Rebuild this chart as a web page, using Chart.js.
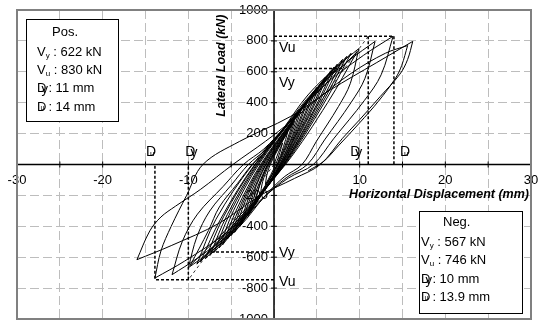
<!DOCTYPE html>
<html>
<head>
<meta charset="utf-8">
<script src="https://cdn.jsdelivr.net/npm/chart.js@4.4.1/dist/chart.umd.min.js"></script>
<style>
  html, body { margin: 0; padding: 0; background: #fff; }
  #wrap { width: 546px; height: 320px; }
</style>
</head>
<body>
<div id="wrap"><canvas id="chart" width="546" height="320"></canvas></div>
<script>
// Tick labels
const xTicks = [-30, -20, -10, 10, 20, 30];
const yTicks = [-1000, -800, -600, -400, -200, 200, 400, 600, 800, 1000];

// Key values (Pos. / Neg.)
const posVy = 622, posVu = 830, posDy = 11, posDu = 14;
const negVy = -567, negVu = -746, negDy = -10, negDu = -13.9;

// Hysteresis cycles, [displacement mm, load kN]
const cycle01 = [[0,0],[0.5,76],[1.0,140],[0.68,77],[0.2,0],[-0.37,-65],[-1.0,-130]];
const cycle02 = [[-1.0,-130],[-0.85,-72],[-0.44,0],[0.53,105],[1.6,210],[1.11,116],[0.36,0],[-0.57,-100],[-1.6,-200]];
const cycle03 = [[-1.6,-200],[-1.32,-110],[-0.56,0],[0.76,135],[2.2,270],[1.47,149],[0.4,0],[-0.84,-125],[-2.2,-250]];
const cycle04 = [[-2.2,-250],[-1.67,-135],[-0.67,0],[0.8,140],[2.4,280],[1.62,154],[0.45,0],[-0.85,-122],[-2.3,-245]];
const cycle05 = [[-2.3,-245],[-1.68,-135],[-0.73,0],[1.05,175],[3.0,350],[2.01,193],[0.55,0],[-1.14,-165],[-3.0,-330]];
const cycle06 = [[-3.0,-330],[-2.17,-184],[-0.76,0],[1.13,178],[3.2,355],[2.19,195],[0.68,0],[-1.13,-168],[-3.1,-335]];
const cycle07 = [[-3.1,-335],[-2.38,-184],[-0.92,0],[1.34,205],[3.8,410],[2.53,225],[0.68,0],[-1.45,-192],[-3.8,-385]];
const cycle08 = [[-3.8,-385],[-2.72,-212],[-0.98,0],[1.4,210],[4.0,420],[2.71,231],[0.78,0],[-1.5,-200],[-4.0,-400]];
const cycle09 = [[-4.0,-400],[-2.98,-220],[-1.11,0],[1.62,235],[4.6,470],[3.06,258],[0.81,0],[-1.78,-220],[-4.6,-440]];
const cycle10 = [[-4.6,-440],[-3.38,-242],[-1.25,0],[1.75,250],[5.0,500],[3.31,275],[0.83,0],[-1.95,-230],[-5.0,-460]];
const cycle11 = [[-5.0,-460],[-3.65,-253],[-1.34,0],[1.89,260],[5.4,520],[3.57,286],[0.9,0],[-2.11,-240],[-5.4,-480]];
const cycle12 = [[-5.4,-480],[-3.92,-264],[-1.45,0],[2.12,282],[6.0,565],[3.94,311],[0.95,0],[-2.37,-260],[-6.0,-520]];
const cycle13 = [[-6.0,-520],[-4.32,-286],[-1.56,0],[2.21,290],[6.3,580],[4.14,319],[1.0,0],[-2.54,-270],[-6.4,-540]];
const cycle14 = [[-6.4,-540],[-4.71,-297],[-1.79,0],[2.43,315],[7.0,630],[4.59,346],[1.09,0],[-2.77,-285],[-7.0,-570]];
const cycle15 = [[-7.0,-570],[-5.12,-313],[-1.93,0],[2.55,325],[7.4,650],[4.84,358],[1.11,0],[-3.0,-295],[-7.5,-590]];
const cycle16 = [[-7.5,-590],[-5.45,-324],[-2.04,0],[2.78,340],[8.0,680],[5.2,374],[1.16,0],[-3.22,-305],[-8.0,-610]];
const cycle17 = [[-8.0,-610],[-5.86,-335],[-2.18,0],[2.95,350],[8.5,700],[5.5,385],[1.18,0],[-3.5,-315],[-8.6,-630]];
const cycle18 = [[-8.6,-630],[-6.17,-347],[-2.25,0],[3.16,360],[9.0,720],[5.83,396],[1.27,0],[-3.64,-322],[-9.0,-645]];
const cycle19 = [[-9.0,-645],[-6.78,-355],[-2.5,0],[3.36,365],[9.7,730],[6.28,402],[1.34,0],[-3.99,-328],[-9.8,-655]];
const cycle20 = [[-9.8,-655],[-7.65,-427],[-6.38,-275],[-4.25,-122],[-2.55,0],[-0.85,90],[0.99,225],[3.96,450],[7.43,638],[9.9,750],[8.91,525],[7.52,375],[4.95,150],[3.27,0],[1.19,-80],[-1,-200],[-4,-401],[-7.5,-568],[-10,-668]];
const cycle21 = [[-10,-668],[-9,-468],[-7.5,-301],[-5,-134],[-3,0],[-1,96],[1.18,239],[4.72,478],[8.85,677],[11.8,797],[10.62,558],[8.97,399],[5.9,159],[3.89,0],[1.42,-86],[-1.19,-214],[-4.76,-428],[-8.93,-606],[-11.9,-713]];
const cycle22 = [[-11.9,-713],[-10.71,-499],[-8.93,-321],[-5.95,-143],[-3.57,0],[-1.19,100],[1.39,249],[5.56,498],[10.43,706],[13.9,830],[12.51,581],[10.56,415],[6.95,166],[4.59,0],[1.67,-88],[-1.39,-221],[-5.56,-441],[-10.43,-625],[-13.9,-735]];
const cycle23 = [[-13.9,-735],[-13.2,-560],[-12,-400],[-10.2,-200],[-8.3,0],[-4,150],[1.9,310],[6.5,480],[12,660],[16.2,797],[15.6,680],[14.7,585],[12.4,440],[10,290],[8,170],[5.4,0],[2.4,-90],[-1.6,-200],[-6.4,-380],[-12,-525],[-16,-616]];
const cycle24 = [[-16,-616],[-14.5,-430],[-13.2,-340],[-11.5,-270],[-8.6,-162],[-4.8,0],[-1,150],[2,280],[5,420],[9,590],[13,720],[15.6,770],[14.9,640],[14.2,560],[12.2,410],[10,270],[7.5,120],[5.8,20],[4,-40]];

const cycles = [cycle01, cycle02, cycle03, cycle04, cycle05, cycle06, cycle07, cycle08,
                cycle09, cycle10, cycle11, cycle12, cycle13, cycle14, cycle15, cycle16,
                cycle17, cycle18, cycle19, cycle20, cycle21, cycle22, cycle23, cycle24];

const FONT = '"Liberation Sans", Arial, sans-serif';

// split each cycle at its positive peak so the tips stay sharp
function branches(pts) {
    let iMax = 0;
    pts.forEach((p, i) => { if (p[1] > pts[iMax][1]) iMax = i; });
    const toXY = arr => arr.map(p => ({ x: p[0], y: p[1] }));
    return [toXY(pts.slice(0, iMax + 1)), toXY(pts.slice(iMax))];
}

const loopSets = [];
cycles.forEach(c => {
    branches(c).forEach(b => {
        loopSets.push({ data: b, borderColor: '#000', borderWidth: 1, pointRadius: 0, showLine: true, tension: 0.35 });
    });
});

const thick = { borderColor: '#000', borderWidth: 1.5, borderDash: [3, 2], pointRadius: 0, showLine: true, tension: 0 };
const thin = { borderColor: '#000', borderWidth: 0.8, borderDash: [3, 3], pointRadius: 0, showLine: true, tension: 0 };

const refSets = [
    { ...thick, data: [{x: 0, y: posVu}, {x: posDu, y: posVu}, {x: posDu, y: 0}] },
    { ...thick, data: [{x: 0, y: posVy}, {x: posDy * posVy / posVu, y: posVy}] },
    { ...thick, data: [{x: posDy, y: posVu}, {x: posDy, y: 0}] },
    { ...thin, data: [{x: 0, y: 0}, {x: posDy, y: posVu}] },
    { ...thick, data: [{x: 0, y: negVu}, {x: negDu, y: negVu}, {x: negDu, y: 0}] },
    { ...thick, data: [{x: 0, y: negVy}, {x: negDy * negVy / negVu, y: negVy}] },
    { ...thick, data: [{x: negDy, y: negVu}, {x: negDy, y: 0}] },
    { ...thin, data: [{x: 0, y: 0}, {x: negDy, y: negVu}] }
];

function vText(ctx, x, y, sub, rest) {
    ctx.font = `13px ${FONT}`;
    ctx.fillText('V', x, y);
    const w = ctx.measureText('V').width;
    ctx.font = `8px ${FONT}`;
    ctx.fillText(sub, x + w, y + 4);
    const sw = ctx.measureText(sub).width;
    ctx.font = `13px ${FONT}`;
    ctx.fillText(rest, x + w + sw, y);
}

function dText(ctx, x, y, sub, rest, size) {
    ctx.font = `${size}px ${FONT}`;
    ctx.fillText('D', x, y);
    const w = ctx.measureText('D').width;
    if (sub === 'y') {
        ctx.fillText('y', x + w - 5, y + 1);
    } else {
        ctx.font = `${Math.round(size * 0.55)}px ${FONT}`;
        ctx.fillText(sub, x + w - 6, y + 1);
    }
    ctx.font = `${size}px ${FONT}`;
    if (rest) ctx.fillText(rest, x + w + 2, y);
}

const overlay = {
    id: 'overlay',
    // axes, ticks and tick labels sit under the loops
    beforeDatasetsDraw(chart) {
        const { ctx, chartArea: a, scales: { x, y } } = chart;
        const x0 = x.getPixelForValue(0), y0 = y.getPixelForValue(0);
        ctx.save();
        ctx.strokeStyle = '#000';
        ctx.lineWidth = 1.5;
        ctx.beginPath();
        ctx.moveTo(a.left, y0); ctx.lineTo(a.right, y0);
        ctx.moveTo(x0, a.top); ctx.lineTo(x0, a.bottom);
        ctx.stroke();

        ctx.lineWidth = 1;
        ctx.beginPath();
        x.ticks.forEach(t => { const p = x.getPixelForValue(t.value); ctx.moveTo(p, y0 - 3); ctx.lineTo(p, y0 + 3); });
        y.ticks.forEach(t => { const p = y.getPixelForValue(t.value); ctx.moveTo(x0 - 3, p); ctx.lineTo(x0 + 3, p); });
        ctx.stroke();

        ctx.font = `13px ${FONT}`;
        ctx.textBaseline = 'middle';
        ctx.textAlign = 'right';
        yTicks.forEach(v => {
            const p = y.getPixelForValue(v), s = String(v);
            const w = ctx.measureText(s).width;
            ctx.fillStyle = '#fff';
            ctx.fillRect(x0 - 7 - w, p - 6, w + 2, 12);
            ctx.fillStyle = '#000';
            ctx.fillText(s, x0 - 6, p);
        });
        ctx.textAlign = 'center';
        xTicks.forEach(v => ctx.fillText(String(v), x.getPixelForValue(v), y0 + 16));
        ctx.restore();
    },
    afterDraw(chart) {
        const { ctx, chartArea: a, scales: { x, y } } = chart;
        const x0 = x.getPixelForValue(0), y0 = y.getPixelForValue(0);
        ctx.save();
        ctx.textBaseline = 'middle';

        // frame
        ctx.strokeStyle = '#808080';
        ctx.lineWidth = 2;
        ctx.strokeRect(a.left, a.top, a.right - a.left, a.bottom - a.top);

        // axis titles
        ctx.fillStyle = '#000';
        ctx.font = `italic bold 12.5px ${FONT}`;
        ctx.textAlign = 'right';
        ctx.fillText('Horizontal Displacement (mm)', a.right - 2, y0 + 30);
        ctx.save();
        ctx.translate(x0 - 52, y.getPixelForValue(640));
        ctx.rotate(-Math.PI / 2);
        ctx.textAlign = 'center';
        ctx.fillText('Lateral Load (kN)', 0, 0);
        ctx.restore();

        // Vy / Vu labels on the load axis
        ctx.textAlign = 'left';
        ctx.font = `14px ${FONT}`;
        ctx.fillText('Vu', x0 + 5, y.getPixelForValue(posVu) + 12);
        ctx.fillText('Vy', x0 + 5, y.getPixelForValue(posVy) + 15);
        ctx.fillText('Vy', x0 + 5, y.getPixelForValue(negVy) + 1);
        ctx.fillText('Vu', x0 + 5, y.getPixelForValue(negVu) + 2);

        // D labels above the displacement axis
        const dy = y0 - 12;
        dText(ctx, x.getPixelForValue(posDy) - 18, dy, 'y', '', 14);
        dText(ctx, x.getPixelForValue(posDu) + 6, dy, 'u', '', 14);
        dText(ctx, x.getPixelForValue(negDu) - 9, dy, 'u', '', 14);
        dText(ctx, x.getPixelForValue(negDy) - 3, dy, 'y', '', 14);

        // legend boxes
        ctx.lineWidth = 1;
        ctx.strokeStyle = '#000';
        ctx.fillStyle = '#fff';
        ctx.fillRect(26, 19, 92, 102);
        ctx.strokeRect(26.5, 19.5, 92, 102);
        ctx.fillRect(419, 211, 103, 102);
        ctx.strokeRect(419.5, 211.5, 103, 102);

        ctx.fillStyle = '#000';
        ctx.font = `13px ${FONT}`;
        ctx.fillText('Pos.', 52, 32);
        vText(ctx, 37, 52, 'y', ` : ${posVy} kN`);
        vText(ctx, 37, 70, 'u', ` : ${posVu} kN`);
        dText(ctx, 37, 88, 'y', `: ${posDy} mm`, 13);
        dText(ctx, 37, 107, 'u', `: ${posDu} mm`, 13);

        ctx.font = `13px ${FONT}`;
        ctx.fillText('Neg.', 443, 222);
        vText(ctx, 421, 242, 'y', ` : ${-negVy} kN`);
        vText(ctx, 421, 260, 'u', ` : ${-negVu} kN`);
        dText(ctx, 421, 279, 'y', `: ${-negDy} mm`, 13);
        dText(ctx, 421, 297, 'u', `: ${-negDu} mm`, 13);

        ctx.restore();
    }
};

new Chart(document.getElementById('chart'), {
    type: 'scatter',
    data: { datasets: [...refSets, ...loopSets] },
    options: {
        responsive: false,
        devicePixelRatio: 1,
        animation: false,
        layout: { padding: { left: 17, top: 10, right: 15, bottom: 1 } },
        plugins: { legend: { display: false }, tooltip: { enabled: false } },
        scales: {
            x: {
                type: 'linear', min: -30, max: 30,
                ticks: { display: false, stepSize: 5 },
                grid: { color: '#bdbdbd', lineWidth: 1, drawTicks: false },
                border: { display: false, dash: [9, 4] },
                afterFit: s => { s.height = 0; }
            },
            y: {
                type: 'linear', min: -1000, max: 1000,
                ticks: { display: false, stepSize: 200 },
                grid: { color: '#bdbdbd', lineWidth: 1, drawTicks: false },
                border: { display: false, dash: [9, 4] },
                afterFit: s => { s.height = 0; s.width = 0; }
            }
        }
    },
    plugins: [overlay]
});
</script>
</body>
</html>
